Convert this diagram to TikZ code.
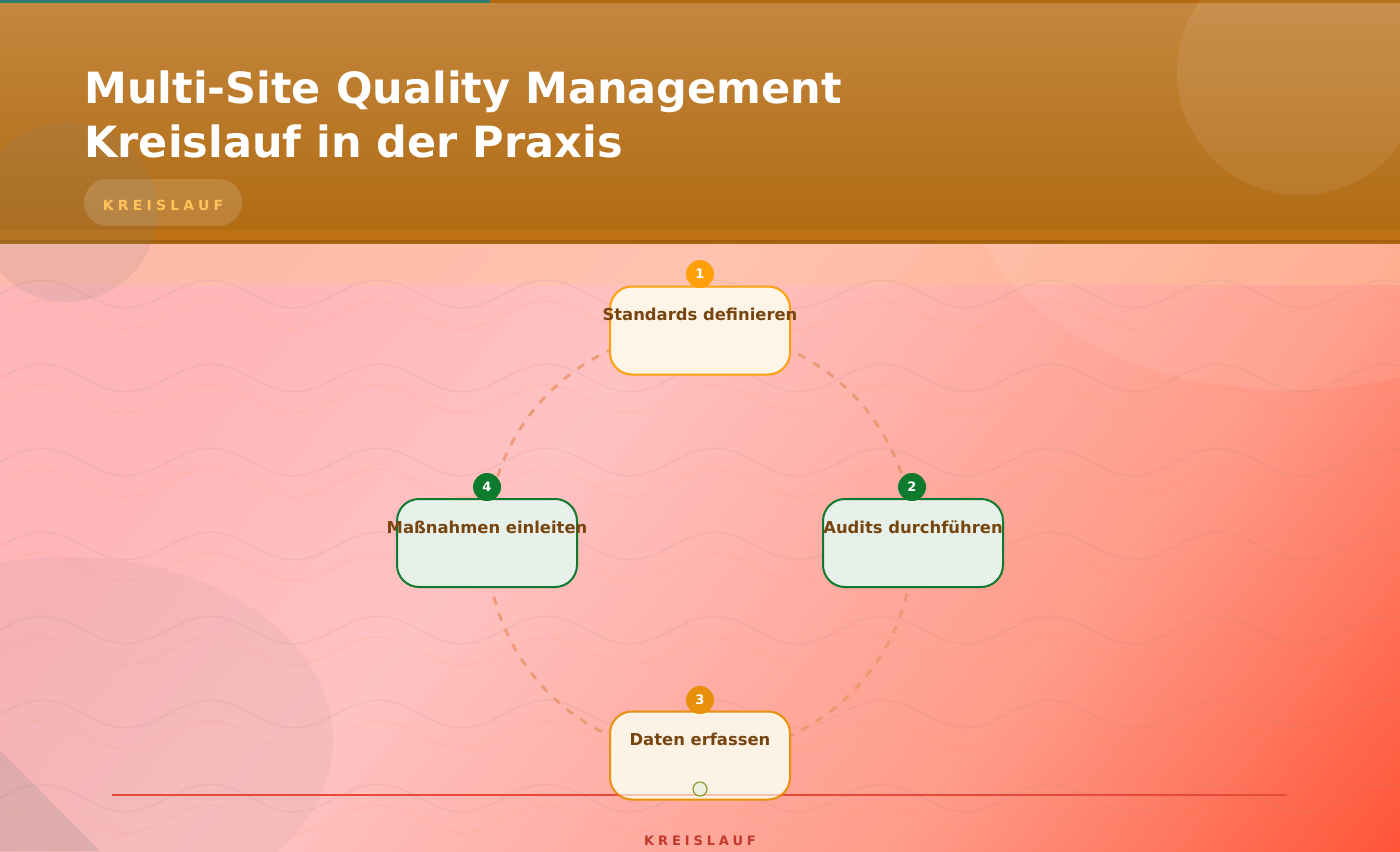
\documentclass[tikz,border=0pt]{standalone}
\usepackage{fontspec}
\setmainfont{DejaVu Sans}
\usetikzlibrary{positioning}

\definecolor{headtop}{HTML}{C4873F}
\definecolor{headbot}{HTML}{B06A10}
\definecolor{topteal}{HTML}{2E7C72}
\definecolor{toporange}{HTML}{B5670E}
\definecolor{bodyA}{HTML}{FFB6B9}
\definecolor{bodyB}{HTML}{FFC2C2}
\definecolor{bodyC}{HTML}{FF9A88}
\definecolor{bodyD}{HTML}{FF5234}
\definecolor{peach}{HTML}{FFC690}
\definecolor{ringcol}{HTML}{E8956A}
\definecolor{rulered}{HTML}{E84A3A}
\definecolor{warmline}{HTML}{FF9F0A}
\definecolor{warmfill}{HTML}{FFF4E8}
\definecolor{amberline}{HTML}{E8900A}
\definecolor{amberfill}{HTML}{FCF2E6}
\definecolor{greenline}{HTML}{0E7A2E}
\definecolor{greenfill}{HTML}{E7F1EA}
\definecolor{labelbrown}{HTML}{774510}
\definecolor{taggold}{HTML}{FFC35A}
\definecolor{footred}{HTML}{C0392B}
\definecolor{dotline}{HTML}{8A9A30}
\definecolor{dotfill}{HTML}{EEEFE0}

\pgfdeclarehorizontalshading{bodyfade}{100bp}{color(0bp)=(bodyA); color(26bp)=(bodyA); color(42bp)=(bodyB); color(67bp)=(bodyC); color(86bp)=(bodyD); color(100bp)=(bodyD)}

\begin{document}
\begin{tikzpicture}
    [
        x=0.5pt, y=-0.5pt,
        title/.style={anchor=base west, inner sep=0pt, text=white, font=\bfseries\fontsize{21.5}{26}\selectfont},
        tag/.style={rounded corners=11.75pt, minimum width=79pt, minimum height=23.5pt, text height=7.6pt, text depth=0pt, fill=white, fill opacity=0.15, text opacity=1, text=taggold, font=\bfseries\fontsize{7}{8}\selectfont\addfontfeatures{LetterSpace=30}},
        stepbox/.style={rectangle, rounded corners=11pt, line width=1pt, minimum width=90pt, minimum height=44pt},
        warmbox/.style={stepbox, draw=warmline, fill=warmfill},
        amberbox/.style={stepbox, draw=amberline, fill=amberfill},
        greenbox/.style={stepbox, draw=greenline, fill=greenfill},
        steplabel/.style={inner sep=0pt, text=labelbrown, font=\bfseries\fontsize{8.2}{9.8}\selectfont},
        badge/.style={circle, minimum size=14pt, inner sep=0pt, text=white, font=\bfseries\fontsize{6.5}{7}\selectfont},
        ring/.style={draw=ringcol, draw opacity=0.85, line width=1.4pt, dash pattern=on 4pt off 4.5pt},
        wave/.style={line width=0.75pt, draw=gray, draw opacity=0.1},
        wavelight/.style={line width=0.75pt, draw=orange, draw opacity=0.07},
        dot/.style={circle, minimum size=7pt, inner sep=0pt, line width=0.6pt, draw=dotline, fill=dotfill},
    ]
    \useasboundingbox (0,0) rectangle (1400,851);

    % background
    \begin{scope}
        \clip (0,0) rectangle (1400,851);
        \fill [bodyA] (0,243) rectangle (1400,851);
        \fill [bodyC] (1150,243) -- (1400,243) -- (1400,450) -- cycle;
        \shade [shading=bodyfade, shading angle=-38.7] (0,243) rectangle (1400,851);
        \fill [peach, opacity=0.35] (0,243) rectangle (1400,285);
        \fill [white, opacity=0.08] (1290,170) ellipse [x radius=162.5pt, y radius=110pt];
        \fill [gray, opacity=0.08] (70,740) ellipse [x radius=131.5pt, y radius=91.5pt];
        \fill [gray, opacity=0.18] (0,750) -- (100,851) -- (0,851) -- cycle;
        \foreach \r in {294,378,462,546,630,714,798}{
            \draw [wave] plot [domain=0:1400, samples=121] (\x, {\r-14*sin(\x/168*360)});
            \draw [wavelight] plot [domain=0:1400, samples=121] (\x, {\r+21-14*sin(\x/168*360)});
        }
        % header
        \shade [top color=headtop, bottom color=headbot] (0,0) rectangle (1400,243);
        \fill [orange!60!headtop, opacity=0.25] (0,230) rectangle (1400,240);
        \fill [headbot!92!black] (0,240) rectangle (1400,243);
        \fill [toporange] (490,0) rectangle (1400,3);
        \fill [topteal] (0,0) rectangle (490,3);
        \fill [white, opacity=0.08] (1300,72) circle [radius=61.5pt];
        \fill [gray, opacity=0.14] (67,212) circle [radius=45pt];
    \end{scope}

    % title
    \node (title1) at (84,103) [title] {Multi-Site Quality Management};
    \node (title2) at (84,157) [title] {Kreislauf in der Praxis};
    \node (tag) at (163,202.5) [tag] {KREISLAUF};

    % cycle
    \coordinate (p1) at (700,330.5);
    \coordinate (p2) at (913,543);
    \coordinate (p3) at (700,755.5);
    \coordinate (p4) at (487,543);
    \draw [ring] (p1) to [bend left=45] (p2);
    \draw [ring] (p2) to [bend left=45] (p3);
    \draw [ring] (p3) to [bend left=45] (p4);
    \draw [ring] (p4) to [bend left=45] (p1);

    \coordinate (rulel) at (112,795);
    \coordinate (ruler) at (1287,795);
    \draw [rulered, line width=0.75pt] (rulel) -- (ruler);

    \node (box1) at (p1) [warmbox] {};
    \node (box2) at (p2) [greenbox] {};
    \node (box3) at (p3) [amberbox] {};
    \node (box4) at (p4) [greenbox] {};

    \draw [rulered, line width=0.75pt, draw opacity=0.3] (rulel) -- (ruler);

    \node (lab1) at (700,314) [steplabel] {Standards definieren};
    \node (lab2) at (913,527) [steplabel] {Audits durchführen};
    \node (lab3) at (700,739) [steplabel] {Daten erfassen};
    \node (lab4) at (487,527) [steplabel] {Maßnahmen einleiten};

    \node (num1) at (700,274) [badge, fill=warmline] {1};
    \node (num2) at (912,487) [badge, fill=greenline] {2};
    \node (num3) at (700,700) [badge, fill=amberline] {3};
    \node (num4) at (487,487) [badge, fill=greenline] {4};

    \node (mark) at (700,789) [dot] {};

    \node (foot) at (700,841) [text=footred, font=\bfseries\fontsize{6.5}{7.5}\selectfont\addfontfeatures{LetterSpace=30}] {KREISLAUF};
\end{tikzpicture}
\end{document}
